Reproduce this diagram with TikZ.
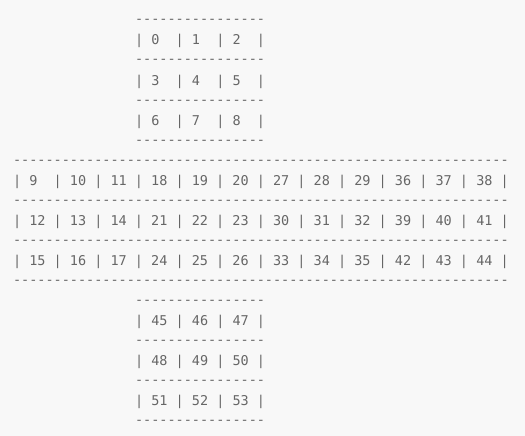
\documentclass[tikz,border=0pt]{standalone}
\usepackage{fontspec}
\setmonofont{DejaVu Sans Mono}
\definecolor{bg}{HTML}{F8F8F8}
\definecolor{txt}{HTML}{666666}
\begin{document}
\begin{tikzpicture}[x=1pt,y=-1pt,
  ln/.style={anchor=base west,inner sep=0pt,outer sep=0pt,text=txt,
    font=\ttfamily\fontsize{13.5}{20}\selectfont}]
\fill[bg] (0,0) rectangle (525,436);
\useasboundingbox (0,0) rectangle (525,436);
\def\sx{135}
\def\bx{13}
\node[ln] (l1) at (\sx,24) {----------------};
\node[ln] (l2) at (\sx,45) {|~0~~|~1~~|~2~~|};
\node[ln] (l3) at (\sx,64) {----------------};
\node[ln] (l4) at (\sx,85) {|~3~~|~4~~|~5~~|};
\node[ln] (l5) at (\sx,104) {----------------};
\node[ln] (l6) at (\sx,125) {|~6~~|~7~~|~8~~|};
\node[ln] (l7) at (\sx,144) {----------------};
\node[ln] (l8) at (\bx,164) {-------------------------------------------------------------};
\node[ln] (l9) at (\bx,185) {|~9~~|~10~|~11~|~18~|~19~|~20~|~27~|~28~|~29~|~36~|~37~|~38~|};
\node[ln] (l10) at (\bx,204) {-------------------------------------------------------------};
\node[ln] (l11) at (\bx,225) {|~12~|~13~|~14~|~21~|~22~|~23~|~30~|~31~|~32~|~39~|~40~|~41~|};
\node[ln] (l12) at (\bx,244) {-------------------------------------------------------------};
\node[ln] (l13) at (\bx,265) {|~15~|~16~|~17~|~24~|~25~|~26~|~33~|~34~|~35~|~42~|~43~|~44~|};
\node[ln] (l14) at (\bx,284) {-------------------------------------------------------------};
\node[ln] (l15) at (\sx,304) {----------------};
\node[ln] (l16) at (\sx,325) {|~45~|~46~|~47~|};
\node[ln] (l17) at (\sx,344) {----------------};
\node[ln] (l18) at (\sx,365) {|~48~|~49~|~50~|};
\node[ln] (l19) at (\sx,384) {----------------};
\node[ln] (l20) at (\sx,405) {|~51~|~52~|~53~|};
\node[ln] (l21) at (\sx,424) {----------------};
\end{tikzpicture}
\end{document}
